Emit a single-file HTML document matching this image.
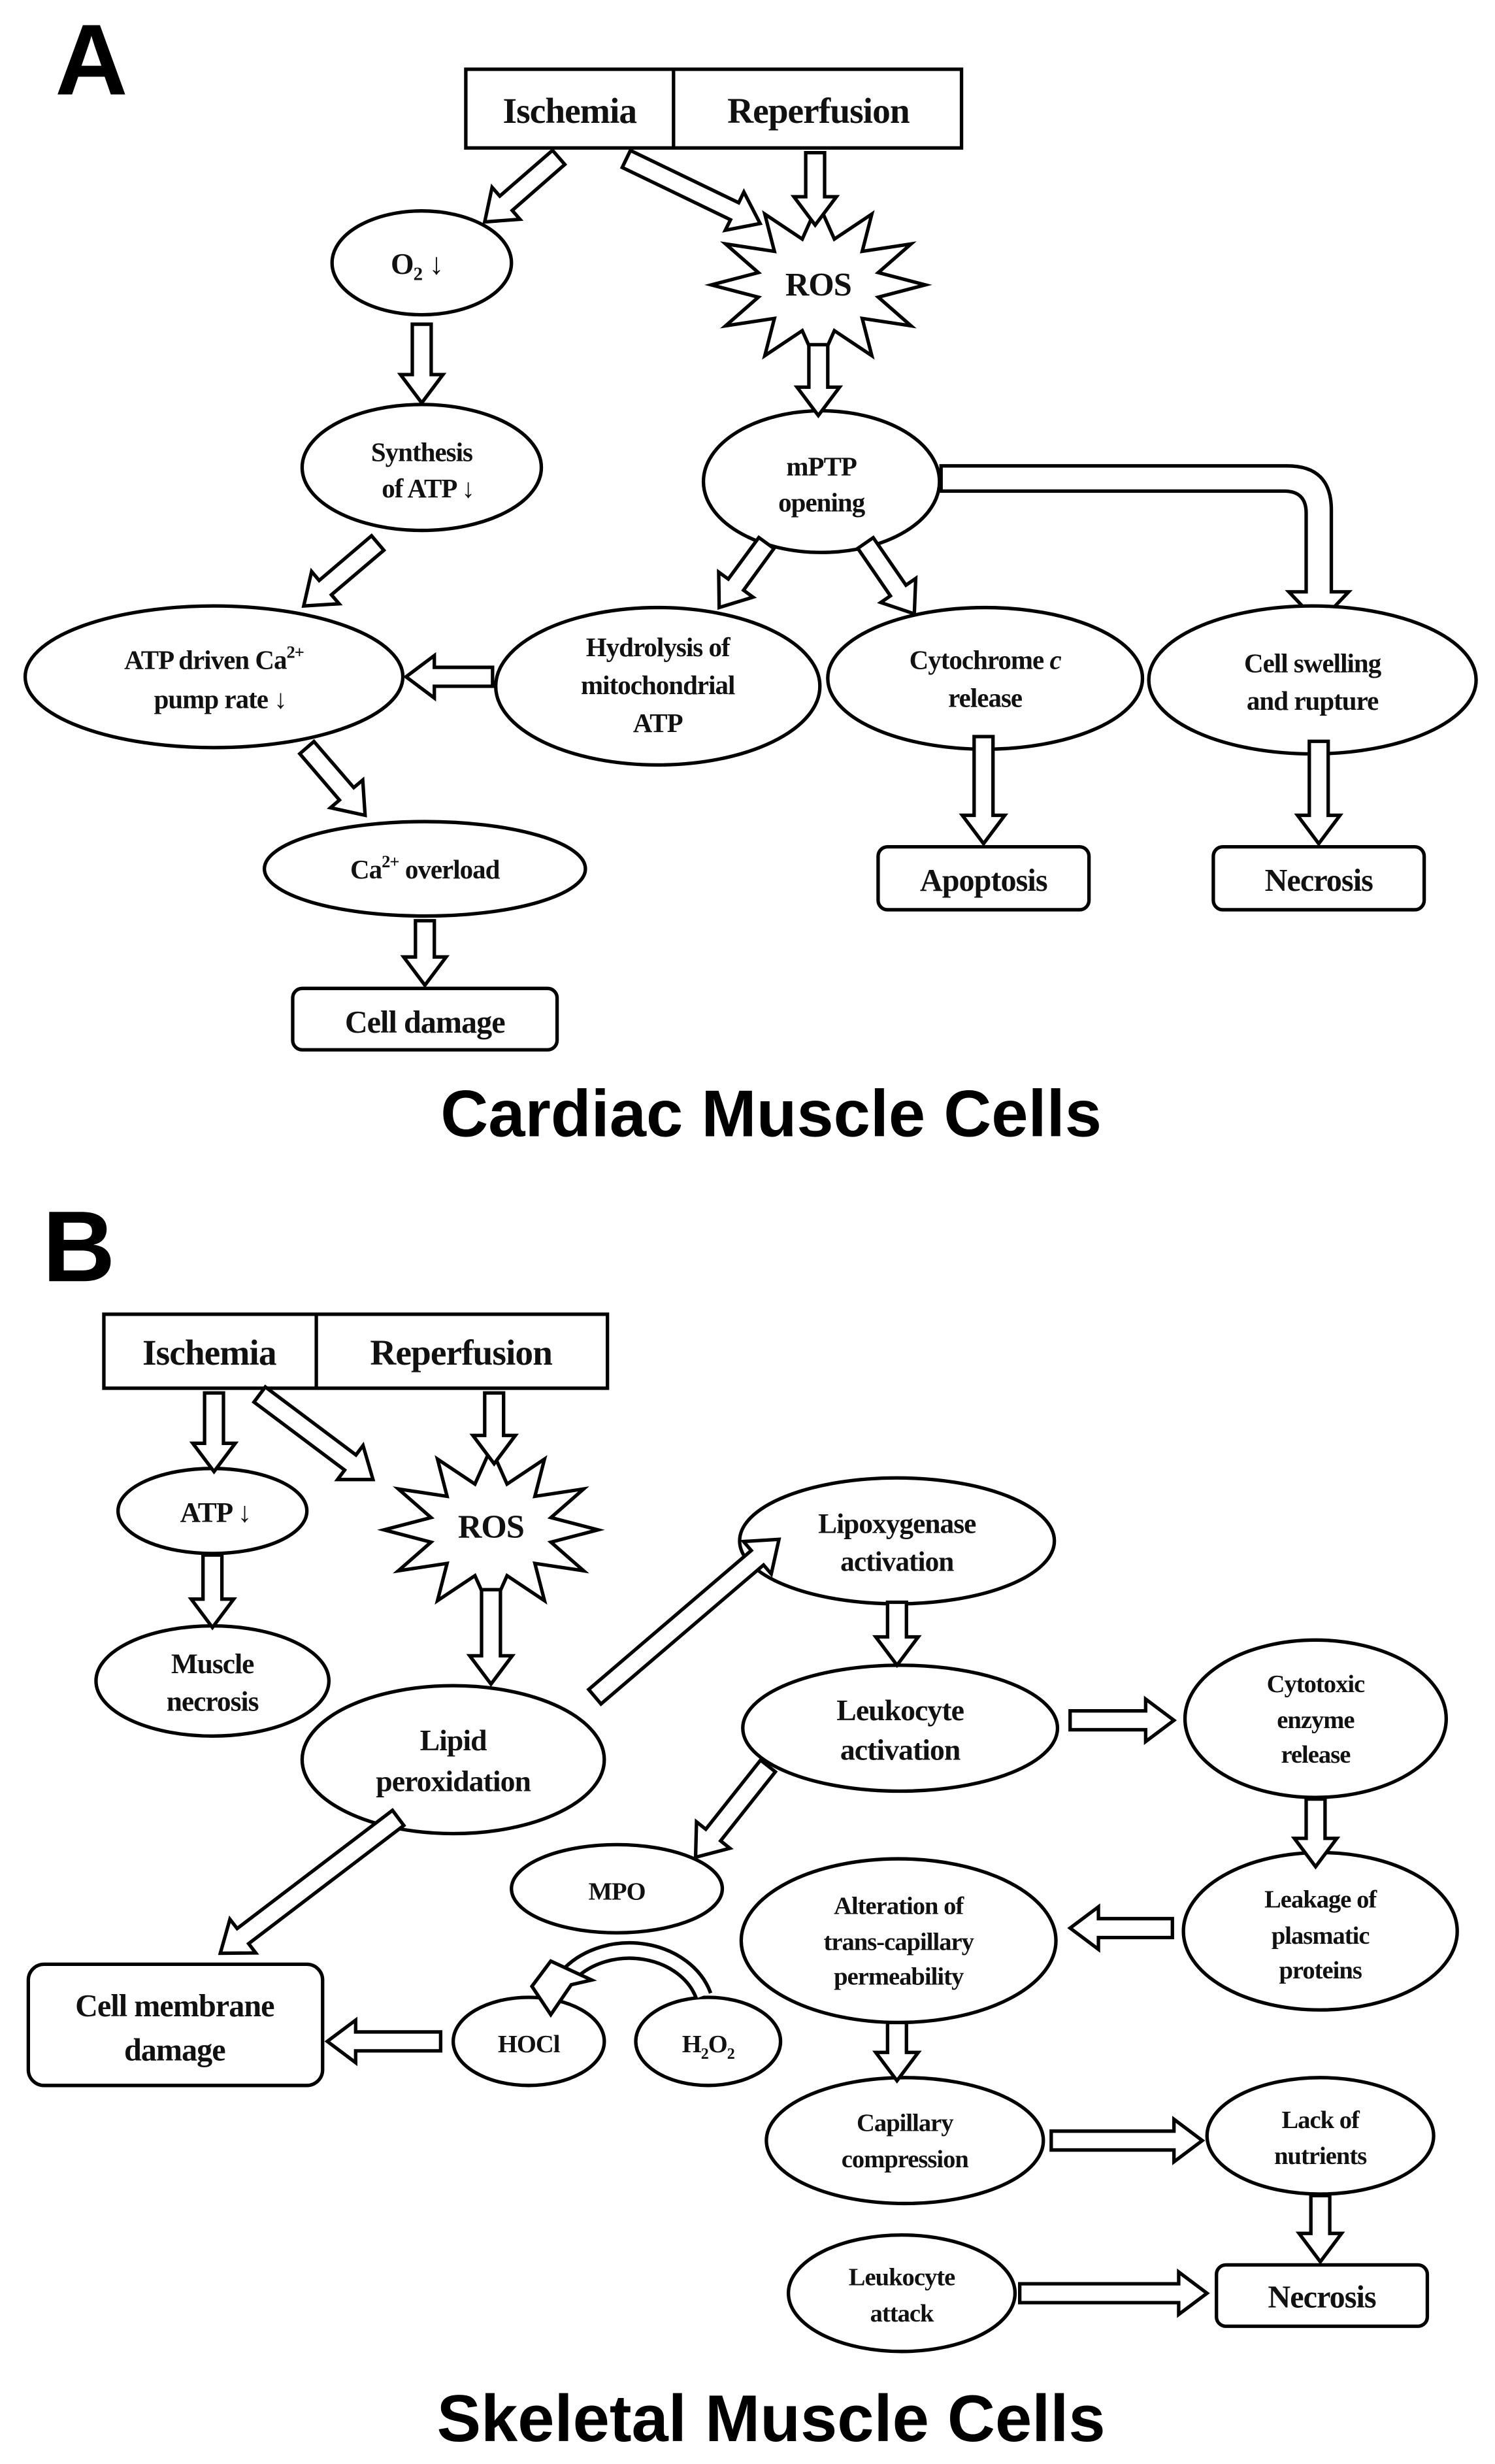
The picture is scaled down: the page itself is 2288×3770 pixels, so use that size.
<!DOCTYPE html>
<html><head><meta charset="utf-8">
<style>
html,body{margin:0;padding:0;background:#fff;}
svg{display:block;}
.t{font-family:"Liberation Serif",serif;font-weight:bold;fill:#111;text-anchor:middle;letter-spacing:-0.4px;}
.h{font-family:"Liberation Sans",sans-serif;font-weight:bold;fill:#000;}
.s{fill:#fff;stroke:#000;stroke-width:2.2;}
</style></head>
<body>
<svg id="d" width="2288" height="3770" viewBox="0 0 950 1565.5" preserveAspectRatio="none" xmlns="http://www.w3.org/2000/svg">
<rect width="950" height="1566" fill="#fff"/>
<!-- Panel A -->
<text class="h" x="35" y="60" font-size="64">A</text>
<rect class="s" x="296" y="44" width="315" height="50"/>
<line x1="428" y1="44" x2="428" y2="94" stroke="#000" stroke-width="2.2"/>
<text class="t" x="362" y="78" font-size="23">Ischemia</text>
<text class="t" x="520" y="78" font-size="23">Reperfusion</text>

<ellipse class="s" cx="268" cy="167" rx="57" ry="33"/>
<text class="t" x="265" y="174" font-size="19">O<tspan font-size="12" dy="4">2</tspan><tspan dy="-4"> ↓</tspan></text>
<polygon id="star1" class="s"/>
<text class="t" x="520" y="188" font-size="21">ROS</text>

<ellipse class="s" cx="268" cy="297" rx="76" ry="40"/>
<text class="t" x="268" y="293" font-size="17">Synthesis</text>
<text class="t" x="272" y="316" font-size="17">of ATP ↓</text>
<ellipse class="s" cx="522" cy="306" rx="75" ry="45"/>
<text class="t" x="522" y="302" font-size="17">mPTP</text>
<text class="t" x="522" y="325" font-size="17">opening</text>
<path class="s" d="M598,296 L818,296 Q846,296 846,324 L846,376 L857,376 L838,396 L819,376 L830,376 L830,326 Q830,312 816,312 L598,312 Z"/>

<ellipse class="s" cx="136" cy="430" rx="120" ry="45"/>
<text class="t" x="136" y="425" font-size="17">ATP driven Ca<tspan font-size="11" dy="-7">2+</tspan></text>
<text class="t" x="140" y="450" font-size="17">pump rate  ↓</text>
<ellipse class="s" cx="418" cy="436" rx="103" ry="50"/>
<text class="t" x="418" y="417" font-size="17">Hydrolysis of</text>
<text class="t" x="418" y="441" font-size="17">mitochondrial</text>
<text class="t" x="418" y="465" font-size="17">ATP</text>
<ellipse class="s" cx="626" cy="431" rx="100" ry="45"/>
<text class="t" x="626" y="425" font-size="17">Cytochrome <tspan font-style="italic">c</tspan></text>
<text class="t" x="626" y="449" font-size="17">release</text>
<ellipse class="s" cx="834" cy="432" rx="104" ry="47"/>
<text class="t" x="834" y="427" font-size="17">Cell swelling</text>
<text class="t" x="834" y="451" font-size="17">and rupture</text>

<ellipse class="s" cx="270" cy="552" rx="102" ry="30"/>
<text class="t" x="270" y="558" font-size="17">Ca<tspan font-size="11" dy="-7">2+</tspan><tspan dy="7"> overload</tspan></text>
<rect class="s" x="186" y="628" width="168" height="39" rx="6"/>
<text class="t" x="270" y="656" font-size="20">Cell damage</text>
<rect class="s" x="558" y="538" width="134" height="40" rx="6"/>
<text class="t" x="625" y="566" font-size="20">Apoptosis</text>
<rect class="s" x="771" y="538" width="134" height="40" rx="6"/>
<text class="t" x="838" y="566" font-size="20">Necrosis</text>
<text class="h" x="490" y="722" font-size="42" text-anchor="middle">Cardiac Muscle Cells</text>

<!-- Panel B -->
<text class="h" x="27" y="814" font-size="64">B</text>
<rect class="s" x="66" y="835" width="320" height="47"/>
<line x1="201" y1="835" x2="201" y2="882" stroke="#000" stroke-width="2.2"/>
<text class="t" x="133" y="867" font-size="23">Ischemia</text>
<text class="t" x="293" y="867" font-size="23">Reperfusion</text>

<ellipse class="s" cx="135" cy="960" rx="60" ry="27"/>
<text class="t" x="137" y="967" font-size="18">ATP ↓</text>
<polygon id="star2" class="s"/>
<text class="t" x="312" y="977" font-size="21">ROS</text>
<ellipse class="s" cx="135" cy="1068" rx="74" ry="35"/>
<text class="t" x="135" y="1063" font-size="18">Muscle</text>
<text class="t" x="135" y="1087" font-size="18">necrosis</text>
<ellipse class="s" cx="288" cy="1118" rx="96" ry="47"/>
<text class="t" x="288" y="1112" font-size="19">Lipid</text>
<text class="t" x="288" y="1138" font-size="19">peroxidation</text>
<ellipse class="s" cx="570" cy="979" rx="100" ry="40"/>
<text class="t" x="570" y="974" font-size="18">Lipoxygenase</text>
<text class="t" x="570" y="998" font-size="18">activation</text>
<ellipse class="s" cx="572" cy="1098" rx="100" ry="40"/>
<text class="t" x="572" y="1093" font-size="19">Leukocyte</text>
<text class="t" x="572" y="1118" font-size="19">activation</text>
<ellipse class="s" cx="836" cy="1092" rx="83" ry="50"/>
<text class="t" x="836" y="1075" font-size="16">Cytotoxic</text>
<text class="t" x="836" y="1098" font-size="16">enzyme</text>
<text class="t" x="836" y="1120" font-size="16">release</text>
<ellipse class="s" cx="839" cy="1227" rx="87" ry="50"/>
<text class="t" x="839" y="1212" font-size="16">Leakage of</text>
<text class="t" x="839" y="1235" font-size="16">plasmatic</text>
<text class="t" x="839" y="1257" font-size="16">proteins</text>
<ellipse class="s" cx="571" cy="1233" rx="100" ry="52"/>
<text class="t" x="571" y="1216" font-size="16">Alteration of</text>
<text class="t" x="571" y="1239" font-size="16">trans-capillary</text>
<text class="t" x="571" y="1261" font-size="16">permeability</text>
<ellipse class="s" cx="392" cy="1200" rx="67" ry="28"/>
<text class="t" x="392" y="1207" font-size="16">MPO</text>
<ellipse class="s" cx="336" cy="1297" rx="48" ry="28"/>
<text class="t" x="336" y="1304" font-size="16">HOCl</text>
<ellipse class="s" cx="450" cy="1297" rx="46" ry="28"/>
<text class="t" x="450" y="1304" font-size="16">H<tspan font-size="10" dy="4">2</tspan><tspan dy="-4">O</tspan><tspan font-size="10" dy="4">2</tspan></text>
<rect class="s" x="18" y="1248" width="187" height="77" rx="10"/>
<text class="t" x="111" y="1281" font-size="20">Cell membrane</text>
<text class="t" x="111" y="1309" font-size="20">damage</text>
<ellipse class="s" cx="575" cy="1360" rx="88" ry="40"/>
<text class="t" x="575" y="1354" font-size="16">Capillary</text>
<text class="t" x="575" y="1377" font-size="16">compression</text>
<ellipse class="s" cx="839" cy="1357" rx="72" ry="37"/>
<text class="t" x="839" y="1352" font-size="16">Lack of</text>
<text class="t" x="839" y="1375" font-size="16">nutrients</text>
<ellipse class="s" cx="573" cy="1457" rx="72" ry="37"/>
<text class="t" x="573" y="1452" font-size="16">Leukocyte</text>
<text class="t" x="573" y="1475" font-size="16">attack</text>
<rect class="s" x="773" y="1439" width="134" height="39" rx="6"/>
<text class="t" x="840" y="1466" font-size="20">Necrosis</text>

<!-- curved arrow MPO -->
<path d="M447,1268 A49,40 0 0 0 362,1254" fill="none" stroke="#000" stroke-width="12"/>
<path d="M447,1268 A49,40 0 0 0 362,1254" fill="none" stroke="#fff" stroke-width="7.5"/>
<polygon class="s" points="350,1246 376,1258 363,1261 350,1280 338,1262"/>

<text class="h" x="490" y="1551" font-size="42" text-anchor="middle">Skeletal Muscle Cells</text>
<g id="arrows"></g>
</svg>
<script>
(function(){
var NS="http://www.w3.org/2000/svg";
var g=document.getElementById("arrows");
function ar(x1,y1,x2,y2){
 var dx=x2-x1,dy=y2-y1,L=Math.sqrt(dx*dx+dy*dy),ux=dx/L,uy=dy/L,nx=-uy,ny=ux;
 var w=6,H=13.5,hl=18;
 var mx=x2-ux*hl,my=y2-uy*hl;
 var p=[[x1+nx*w,y1+ny*w],[mx+nx*w,my+ny*w],[mx+nx*H,my+ny*H],[x2,y2],[mx-nx*H,my-ny*H],[mx-nx*w,my-ny*w],[x1-nx*w,y1-ny*w]];
 var e=document.createElementNS(NS,"polygon");
 e.setAttribute("points",p.map(function(a){return a[0].toFixed(1)+","+a[1].toFixed(1)}).join(" "));
 e.setAttribute("class","s");g.appendChild(e);
}
function star(id,cx,cy,rx,ry,n,k){
 var pts=[];for(var i=0;i<2*n;i++){var a=Math.PI*i/n-Math.PI/2;var f=i%2?k:1;pts.push((cx+rx*f*Math.cos(a)).toFixed(1)+","+(cy+ry*f*Math.sin(a)).toFixed(1));}
 document.getElementById(id).setAttribute("points",pts.join(" "));
}
star("star1",520,181,68,52,12,0.58);
star("star2",312,972,68,52,12,0.58);
// Panel A
ar(355,100,308,141);
ar(398,101,483,142);
ar(518,97,518,143);
ar(268,206,268,256);
ar(520,219,520,264);
ar(240,345,193,385);
ar(487,345,457,386);
ar(550,345,581,390);
ar(313,430,258,430);
ar(195,475,232,518);
ar(270,585,270,626);
ar(625,468,625,536);
ar(838,471,838,536);
// Panel B
ar(136,885,136,935);
ar(165,886,237,940);
ar(314,885,314,930);
ar(135,988,135,1034);
ar(312,1010,312,1070);
ar(378,1078,495,978);
ar(570,1018,570,1058);
ar(680,1093,746,1093);
ar(836,1143,836,1186);
ar(745,1225,680,1225);
ar(488,1122,442,1180);
ar(253,1155,140,1241);
ar(280,1297,208,1297);
ar(570,1285,570,1322);
ar(668,1360,764,1360);
ar(839,1395,839,1437);
ar(648,1457,767,1457);
})();
</script>
</body></html>
